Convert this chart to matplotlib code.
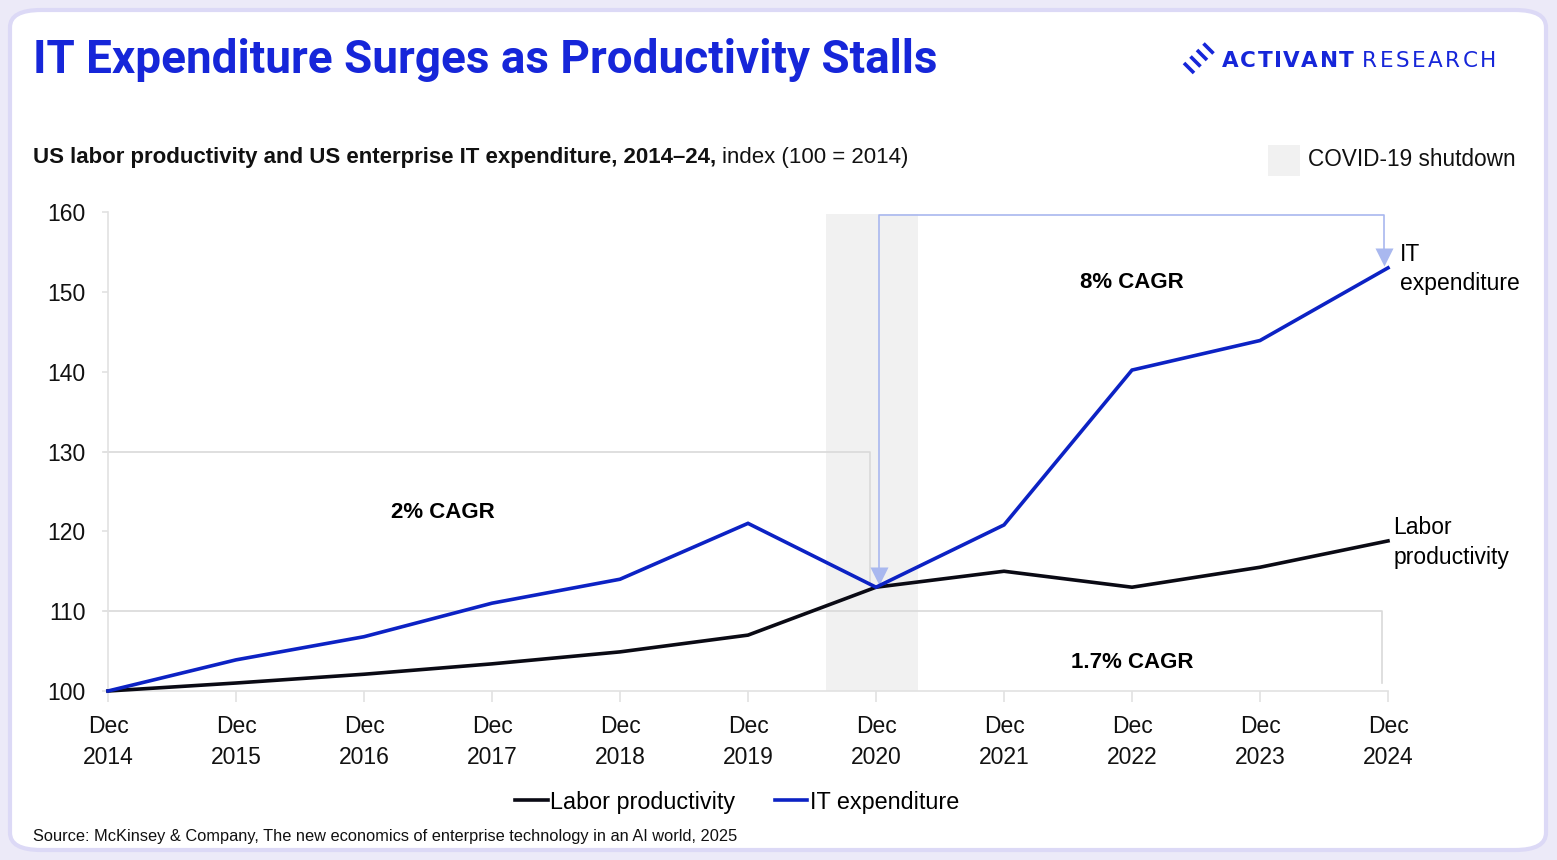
import matplotlib.pyplot as plt
from matplotlib.patches import FancyBboxPatch, Rectangle
from matplotlib.lines import Line2D

# data (index, 100 = 2014)
years = [2014, 2015, 2016, 2017, 2018, 2019, 2020, 2021, 2022, 2023, 2024]
labor_productivity = [100, 101.0, 102.1, 103.4, 104.9, 107.0, 113.0, 115.0, 113.0, 115.5, 118.8]
it_expenditure = [100, 103.9, 106.8, 111.0, 114.0, 121.0, 113.0, 120.8, 140.2, 143.9, 153.0]
y_ticks = [100, 110, 120, 130, 140, 150, 160]
x_labels = [f"Dec\n{y}" for y in years]
covid_start, covid_end = 2019.61, 2020.33

BLUE = "#0c22c4"
TITLE_BLUE = "#1626d9"
LIGHT_BLUE = "#a9b8ef"
GRID = "#d9d9d9"
FONT = "Liberation Sans"

plt.rcParams["font.family"] = [FONT, "DejaVu Sans"]

fig = plt.figure(figsize=(15.57, 8.6), dpi=100)
fig.patch.set_facecolor("#eceaf8")
W, H = 1557, 860


def fx(px):
    return px / W


def fy(py):
    return 1 - py / H


def tracked_text(x_px, y_px, s, tracking, **kw):
    # draw a word letter by letter to mimic the wide letter spacing of the logo
    renderer = fig.canvas.get_renderer()
    x = x_px
    for ch in s:
        t = fig.text(fx(x), fy(y_px), ch, ha="left", va="center", **kw)
        x += t.get_window_extent(renderer).width + tracking
    return x - tracking


# card background
card = FancyBboxPatch((fx(10), fy(850)), fx(1536), (840) / H,
                      boxstyle="round,pad=0,rounding_size=0.02",
                      transform=fig.transFigure, facecolor="white",
                      edgecolor="#dcd9f6", linewidth=3, zorder=-10)
fig.patches.append(card)

ax = fig.add_axes([fx(108), fy(691), fx(1388 - 108), (691 - 212) / H])
ax.set_facecolor("none")
ax.set_zorder(1)

ax.axvspan(covid_start, covid_end, ymin=0, ymax=0.995, color="#f1f1f1", zorder=0, lw=0)

# CAGR brackets
ax.plot([2013.97, 2019.95, 2019.95], [130, 130, 113.6], color=GRID, lw=1.2, zorder=1, clip_on=False)
ax.plot([2013.97, 2023.95, 2023.95], [110, 110, 101], color=GRID, lw=1.2, zorder=1, clip_on=False)
ax.plot([2020.02, 2020.02, 2023.97, 2023.97], [114.6, 159.6, 159.6, 154.8],
        color=LIGHT_BLUE, lw=1.2, zorder=1, clip_on=False)
ax.plot([2020.02], [114.4], marker="v", ms=13, color=LIGHT_BLUE, mec="none", zorder=2, clip_on=False)
ax.plot([2023.97], [154.4], marker="v", ms=13, color=LIGHT_BLUE, mec="none", zorder=2, clip_on=False)

ax.plot(years, labor_productivity, color="#0a0a14", lw=2.6, zorder=3, clip_on=False,
        solid_joinstyle="miter")
ax.plot(years, it_expenditure, color=BLUE, lw=2.6, zorder=4, clip_on=False,
        solid_joinstyle="miter")

ax.set_xlim(2014, 2024)
ax.set_ylim(100, 160)
ax.set_xticks(years)
ax.set_xticklabels(x_labels, fontsize=16.5, linespacing=1.45)
ax.set_yticks(y_ticks)
ax.set_yticklabels([str(v) for v in y_ticks], fontsize=16.5)
for s in ["top", "right"]:
    ax.spines[s].set_visible(False)
for s in ["left", "bottom"]:
    ax.spines[s].set_color("#e2e2e2")
    ax.spines[s].set_linewidth(1.2)
ax.tick_params(axis="x", length=8, width=1.2, color="#e2e2e2", pad=9, labelcolor="#111111")
ax.tick_params(axis="y", length=4, width=1.2, color="#e2e2e2", pad=12, labelcolor="#111111")
ax.grid(False)

# CAGR labels
ax.text(2022.0, 151.2, "8% CAGR", ha="center", va="center", fontsize=16, fontweight="bold")
ax.text(2016.62, 122.3, "2% CAGR", ha="center", va="center", fontsize=16, fontweight="bold")
ax.text(2022.0, 103.6, "1.7% CAGR", ha="center", va="center", fontsize=16, fontweight="bold")

# end labels
ax.text(2024.09, 152.9, "IT\nexpenditure", ha="left", va="center", fontsize=16.5, linespacing=1.35, clip_on=False)
ax.text(2024.04, 118.6, "Labor\nproductivity", ha="left", va="center", fontsize=16.5, linespacing=1.35, clip_on=False)

# title and subtitle
fig.text(fx(33), fy(60), "IT Expenditure Surges as Productivity Stalls", ha="left", va="center",
         fontsize=33, fontweight="bold", color=TITLE_BLUE, family=["Roboto", "DejaVu Sans"])
sub = fig.text(fx(33), fy(157), "US labor productivity and US enterprise IT expenditure, 2014\u201324,",
               ha="left", va="center", fontsize=16, fontweight="bold", color="#111111")
fig.canvas.draw()
bb = sub.get_window_extent()
fig.text(bb.x1 / W + fx(6), fy(157), "index (100 = 2014)", ha="left", va="center", fontsize=16, color="#111111")

# covid legend
fig.patches.append(Rectangle((fx(1268), fy(176)), fx(32), 31 / H, transform=fig.transFigure,
                             facecolor="#f1f1f1", edgecolor="none"))
fig.text(fx(1308), fy(159), "COVID-19 shutdown", ha="left", va="center", fontsize=16.3, color="#111111")

# logo
for i in range(4):
    cx, cy = 1189 + 6.5 * i, 68 - 6.5 * i
    fig.lines.append(Line2D([fx(cx - 5), fx(cx + 5)], [fy(cy - 5), fy(cy + 5)],
                            transform=fig.transFigure, color=TITLE_BLUE, lw=2.6,
                            solid_capstyle="butt"))
end_x = tracked_text(1222, 61, "ACTIVANT", 1.5, fontsize=15.5, color=TITLE_BLUE,
                     fontweight="bold", family=["DejaVu Sans"])
tracked_text(end_x + 8, 61, "RESEARCH", 2.5, fontsize=15.5, color=TITLE_BLUE,
             family=["DejaVu Sans"])

# bottom legend
handles = [Line2D([], [], color="#0a0a14", lw=2.6), Line2D([], [], color=BLUE, lw=2.6)]
fig.legend(handles, ["Labor productivity", "IT expenditure"], loc="center",
           bbox_to_anchor=(fx(737), fy(802)), ncol=2, frameon=False, fontsize=16.8,
           handlelength=1.4, handletextpad=0.1, columnspacing=1.7)

fig.text(fx(33), fy(837), "Source: McKinsey & Company, The new economics of enterprise technology in an AI world, 2025",
         ha="left", va="center", fontsize=11.8, color="#111111")

fig.savefig("out.png", dpi=100, facecolor=fig.get_facecolor())
